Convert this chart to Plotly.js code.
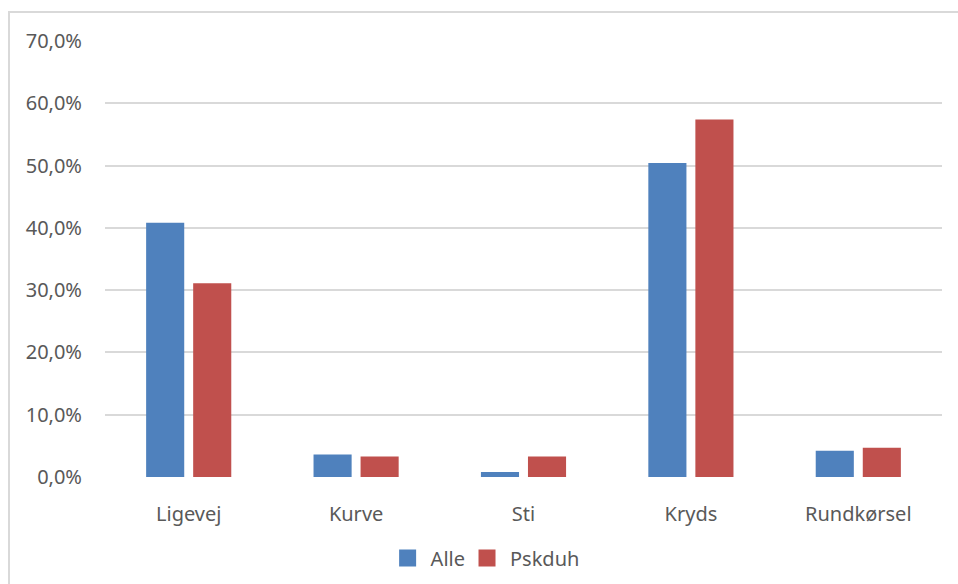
<!DOCTYPE html>
<html>
<head>
<meta charset="utf-8">
<script src="https://cdn.plot.ly/plotly-3.0.1.min.js"></script>
<style>
  html, body { margin: 0; padding: 0; background: #ffffff; }
  #wrap { position: relative; width: 958px; height: 584px; overflow: hidden; }
  #chart { position: absolute; left: 0; top: 0; width: 958px; height: 584px; }
  #frame {
    position: absolute; left: 8px; top: 11px; width: 1000px; height: 700px;
    border: 2px solid #d9d9d9; pointer-events: none;
  }
</style>
</head>
<body>
<div id="wrap">
  <div id="chart"></div>
  <div id="frame"></div>
</div>
<script>
// Share of accidents by road type, in percent
const categories = ["Ligevej", "Kurve", "Sti", "Kryds", "Rundkørsel"];
const alleValues = [40.8, 3.6, 0.8, 50.4, 4.2];
const pskduhValues = [31.1, 3.3, 3.3, 57.4, 4.7];
const seriesNames = ["Alle", "Pskduh"];
const tickValues = [0, 10, 20, 30, 40, 50, 60, 70];
const tickLabels = ["0,0%", "10,0%", "20,0%", "30,0%", "40,0%", "50,0%", "60,0%", "70,0%"];

const FONT = "Noto Sans, Open Sans, sans-serif";
const TEXT_GRAY = "#595959";
const FONT_SIZE = 20;

const traces = [
  {
    type: "bar",
    name: seriesNames[0],
    x: categories,
    y: alleValues,
    marker: { color: "#4f81bd" },
    hoverinfo: "x+y"
  },
  {
    type: "bar",
    name: seriesNames[1],
    x: categories,
    y: pskduhValues,
    marker: { color: "#c0504d" },
    hoverinfo: "x+y"
  }
];

const layout = {
  width: 958,
  height: 584,
  margin: { l: 105, r: 16, t: 40.5, b: 106.7, pad: 0 },
  paper_bgcolor: "rgba(0,0,0,0)",
  plot_bgcolor: "rgba(0,0,0,0)",
  barmode: "group",
  bargap: 0.438,
  bargroupgap: 0.19,
  font: { family: FONT, size: FONT_SIZE, color: TEXT_GRAY },
  xaxis: {
    type: "category",
    showgrid: false,
    zeroline: false,
    showline: false,
    ticks: "",
    ticklabelstandoff: 23,
    tickfont: { family: FONT, size: FONT_SIZE, color: TEXT_GRAY },
    fixedrange: true
  },
  yaxis: {
    range: [0, 70],
    tickvals: tickValues,
    ticktext: tickLabels,
    showgrid: true,
    gridcolor: "#d9d9d9",
    gridwidth: 2,
    zeroline: false,
    showline: false,
    ticks: "",
    ticklabelstandoff: 22,
    tickfont: { family: FONT, size: FONT_SIZE, color: TEXT_GRAY },
    fixedrange: true
  },
  showlegend: true,
  legend: {
    orientation: "h",
    xref: "container",
    yref: "container",
    x: 0.509,
    xanchor: "center",
    y: 0.0445,
    yanchor: "middle",
    font: { family: FONT, size: FONT_SIZE, color: TEXT_GRAY },
    itemwidth: 30,
    tracegroupgap: 0
  }
};

// Larger square swatches in the legend
function enlargeLegendSwatches(gd) {
  gd.querySelectorAll(".legend .legendpoints path").forEach(function (p) {
    p.setAttribute("d", "M5.5,8.5H-11.5V-8.5H5.5Z");
  });
}

Plotly.newPlot("chart", traces, layout, { displayModeBar: false, staticPlot: true })
  .then(enlargeLegendSwatches);
</script>
</body>
</html>
